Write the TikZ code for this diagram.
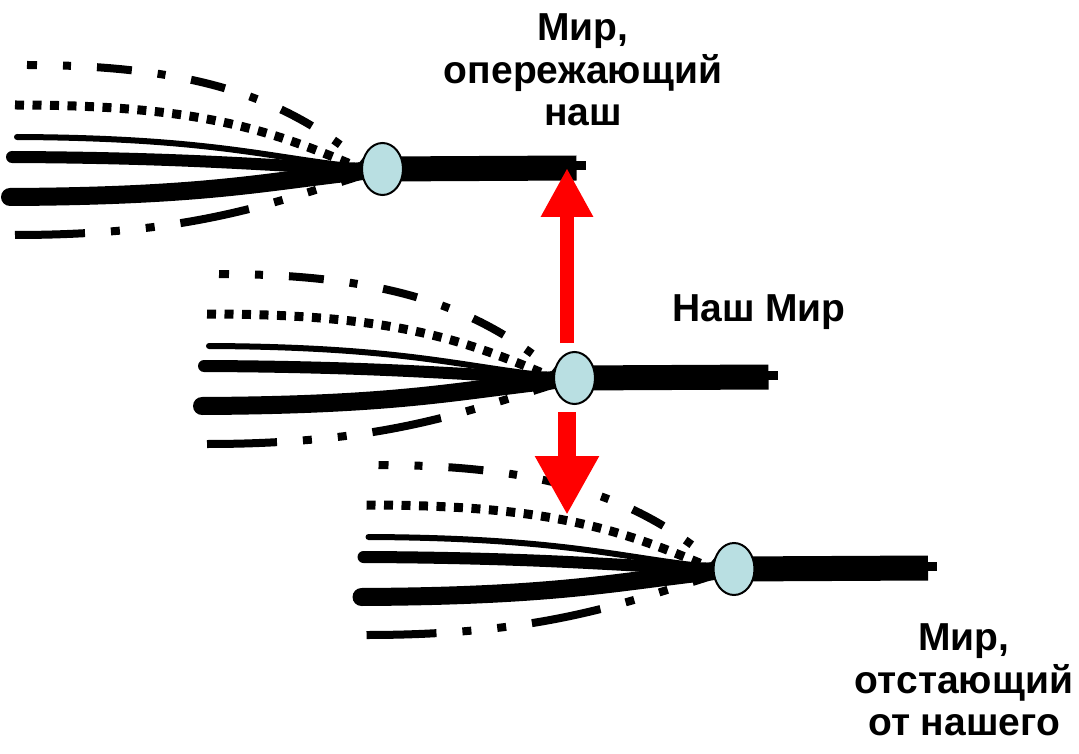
\documentclass[tikz,border=0pt]{standalone}
\usepackage{fontspec}
\setmainfont{Liberation Sans}
\usetikzlibrary{arrows.meta,shapes.geometric}
\definecolor{nodeblue}{RGB}{185,223,226}
\definecolor{arrowred}{RGB}{255,0,0}
\tikzset{
  world/.style={ellipse, draw=black, line width=2pt, fill=nodeblue,
    minimum width=41pt, minimum height=52pt, inner sep=0pt},
  strand/.style={line width=#1, line cap=round},
  dashA/.style={line width=8pt, dash pattern=on 35pt off 26pt on 8pt off 26pt, dash phase=25pt},
  dotB/.style={line width=9pt, dash pattern=on 9pt off 8.5pt},
  dashC/.style={line width=8pt, dash pattern=on 70pt off 26pt on 9pt off 26pt on 9pt off 26pt},
  worldbar/.style={line width=25pt},
  barstub/.style={line width=9pt},
  lbl/.style={font=\bfseries\fontsize{39}{42.5}\selectfont, align=center, inner sep=0pt},
  bigarrow/.style={draw=arrowred, line width=#1},
  broom/.pic={
    \coordinate (-o) at (0,0);
    \coordinate (-a) at (-355.5,-104);
    \coordinate (-b) at (-367.5,-64);
    \coordinate (-c) at (-365.5,-32);
    \coordinate (-d) at (-370.5,-12);
    \coordinate (-f) at (-372.5,28);
    \coordinate (-g) at (-367.5,66);
    \coordinate (-e) at (194,-1);
    \draw[dashA] (-a) .. controls (-162.5,-104) and (-82.5,-59) .. (-15,-3);
    \draw[dotB] (-b) .. controls (-182.5,-64) and (-112.5,-39) .. (-25,-2);
    \draw[dashC] (-g) .. controls (-182.5,66) and (-102.5,31) .. (-o);
    \draw[strand=6pt] (-c) .. controls (-152.5,-31) and (-102.5,-7) .. (-o);
    \draw[strand=12pt] (-d) .. controls (-162.5,-11) and (-102.5,-1) .. (-o);
    \draw[strand=18pt] (-f) .. controls (-162.5,27) and (-112.5,11) .. (-o);
    \draw[worldbar] (-o) -- (-e);
    \draw[barstub] (190,-3) -- (203,-3);
    \node[world] (-n) at (-o) {};
  }
}
\begin{document}
\begin{tikzpicture}[x=1pt,y=-1pt]
\useasboundingbox (0,0) rectangle (1079,754);
\pic (w1) at (382.5,169) {broom};
\pic (w2) at (574.5,378) {broom};
\pic (w3) at (734,569) {broom};
\coordinate (upS) at (567,343);
\coordinate (upE) at (567,168);
\coordinate (dnS) at (567,412);
\coordinate (dnE) at (567,515);
\draw[bigarrow=14pt, -{Triangle[width=49pt,length=49pt]}, fill=arrowred] (upS) -- (upE);
\draw[bigarrow=18pt, -{Triangle[width=60pt,length=59pt]}, fill=arrowred] (dnS) -- (dnE);
\node[lbl] (t1) at (583,70) {Мир,\\опережающий\\наш};
\node[lbl, anchor=base] (t2) at (759,321) {Наш Мир};
\node[lbl] (t3) at (964,680) {Мир,\\отстающий\\от нашего};
\end{tikzpicture}
\end{document}
